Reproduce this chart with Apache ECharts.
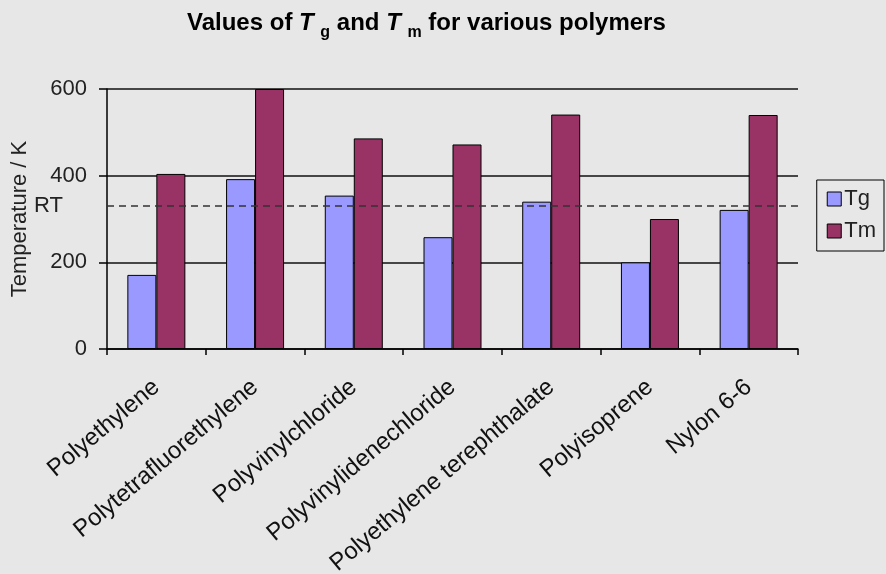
<!DOCTYPE html>
<html>
<head>
<meta charset="utf-8">
<script src="https://cdn.jsdelivr.net/npm/echarts@6/dist/echarts.min.js"></script>
<style>
  html, body { margin: 0; padding: 0; background: #e7e7e7; }
  #chart { width: 886px; height: 574px; }
</style>
</head>
<body>
<div id="chart"></div>
<script>
(function () {
    'use strict';
    var polymers = ['Polyethylene', 'Polytetrafluorethylene', 'Polyvinylchloride', 'Polyvinylidenechloride',
        'Polyethylene terephthalate', 'Polyisoprene', 'Nylon 6-6'];
    var tgValues = [171, 392, 354, 258, 340, 200, 321];
    var tmValues = [404, 600, 486, 472, 541, 300, 540];
    var roomTemp = 330;
    var yTicks = [0, 200, 400, 600];

    var myChart = echarts.init(document.getElementById('chart'));

    var font = 'Liberation Sans, Arial, sans-serif';

    var option = {
        backgroundColor: '#e7e7e7',
        animation: false,
        title: {
            text: 'Values of {i|T} {s|g} and {i|T} {s|m} for various polymers',
            left: 182,
            top: 0,
            textStyle: {
                fontFamily: font,
                fontSize: 24,
                fontWeight: 'bold',
                color: '#000',
                lineHeight: 36,
                rich: {
                    i: { fontFamily: font, fontSize: 24, fontWeight: 'bold', fontStyle: 'italic', color: '#000' },
                    s: { fontFamily: font, fontSize: 16, fontWeight: 'bold', color: '#000', verticalAlign: 'bottom', lineHeight: 16 }
                }
            }
        },
        legend: {
            orient: 'vertical',
            right: 2,
            top: 180,
            padding: [8, 8, 9, 10],
            itemGap: 10,
            itemWidth: 14,
            itemHeight: 14,
            icon: 'rect',
            borderColor: '#000',
            borderWidth: 1,
            itemStyle: { borderColor: '#000', borderWidth: 1 },
            textStyle: { fontFamily: font, fontSize: 22, color: '#222', padding: [0, 0, 0, -2] },
            data: ['Tg', 'Tm']
        },
        grid: {
            left: 107,
            right: 88,
            top: 89,
            bottom: 225,
            containLabel: false,
            outerBoundsMode: 'none'
        },
        xAxis: {
            type: 'category',
            data: polymers,
            axisLine: { lineStyle: { color: '#000', width: 1.5 } },
            axisTick: { show: true, length: 6, lineStyle: { color: '#000', width: 1.5 } },
            axisLabel: {
                rotate: 40,
                margin: 35,
                interval: 0,
                fontFamily: font,
                fontSize: 24,
                color: '#111'
            }
        },
        yAxis: {
            type: 'value',
            min: yTicks[0],
            max: yTicks[yTicks.length - 1],
            interval: 200,
            name: 'Temperature / K',
            nameLocation: 'middle',
            nameGap: 76,
            nameTextStyle: { fontFamily: font, fontSize: 22, color: '#222' },
            axisLine: { show: true, lineStyle: { color: '#000', width: 1.5 } },
            axisTick: { show: true, length: 8, lineStyle: { color: '#000', width: 1.5 } },
            axisLabel: { margin: 20, fontFamily: font, fontSize: 22, color: '#222' },
            splitLine: { show: true, lineStyle: { color: '#111', width: 1.5 } }
        },
        series: [{
                name: 'Tg',
                type: 'bar',
                data: tgValues,
                barWidth: 29,
                barGap: '0%',
                itemStyle: { color: '#9999ff', borderColor: '#000', borderWidth: 1 },
                markLine: {
                    silent: true,
                    symbol: 'none',
                    lineStyle: { color: '#333', type: [7, 5], width: 1.5 },
                    label: {
                        show: true,
                        position: 'start',
                        distance: 44,
                        formatter: 'RT',
                        fontFamily: font,
                        fontSize: 22,
                        color: '#222'
                    },
                    data: [{ yAxis: roomTemp }]
                }
            },
            {
                name: 'Tm',
                type: 'bar',
                data: tmValues,
                barWidth: 29,
                itemStyle: { color: '#993366', borderColor: '#000', borderWidth: 1 }
            }
        ]
    };
    myChart.setOption(option);
    window.addEventListener('resize', function () {
        myChart.resize();
    });
})();
</script>
</body>
</html>
